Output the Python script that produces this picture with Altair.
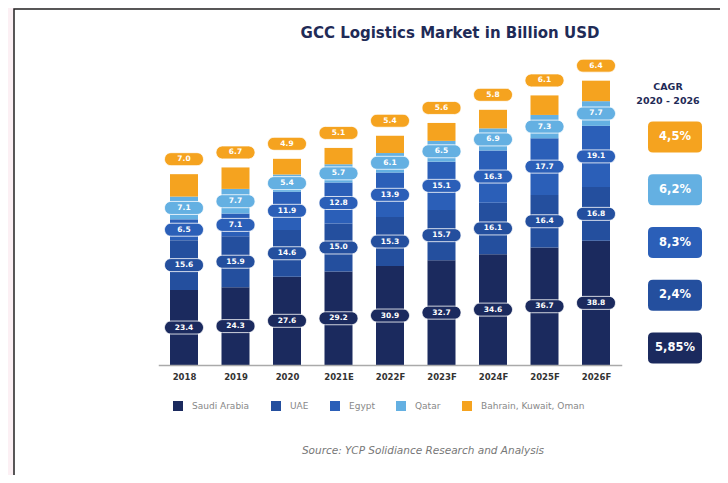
import altair as alt
import pandas as pd

years = ["2018", "2019", "2020", "2021E", "2022F", "2023F", "2024F", "2025F", "2026F"]
saudi = [23.4, 24.3, 27.6, 29.2, 30.9, 32.7, 34.6, 36.7, 38.8]
uae = [15.6, 15.9, 14.6, 15.0, 15.3, 15.7, 16.1, 16.4, 16.8]
egypt = [6.5, 7.1, 11.9, 12.8, 13.9, 15.1, 16.3, 17.7, 19.1]
qatar = [7.1, 7.7, 5.4, 5.7, 6.1, 6.5, 6.9, 7.3, 7.7]
others = [7.0, 6.7, 4.9, 5.1, 5.4, 5.6, 5.8, 6.1, 6.4]
countries = ["Saudi Arabia", "UAE", "Egypt", "Qatar", "Bahrain, Kuwait, Oman"]
colors = ["#1b2a5e", "#244f9e", "#2b5fb8", "#64b0e2", "#f5a31f"]
cagr_countries = ["Bahrain, Kuwait, Oman", "Qatar", "Egypt", "UAE", "Saudi Arabia"]
cagr_labels = ["4,5%", "6,2%", "8,3%", "2,4%", "5,85%"]
title_text = "GCC Logistics Market in Billion USD"
source_text = "Source: YCP Solidiance Research and Analysis"
cagr_head = ["CAGR", "2020 - 2026"]

series = [saudi, uae, egypt, qatar, others]
rows = []
for i, (c, vals) in enumerate(zip(countries, series)):
    for y, v in zip(years, vals):
        rows.append({"year": y, "country": c, "idx": i, "value": v})
df = pd.DataFrame(rows)
cdf = pd.DataFrame({"country": cagr_countries, "label": cagr_labels, "rank": list(range(len(cagr_labels)))})
dummy = pd.DataFrame({"a": [0]})

NAVY = "#1f2b57"
FONT = "DejaVu Sans"
PILL = ("M -1 -0.5 L 1 -0.5 C 1.276 -0.5 1.5 -0.276 1.5 0 C 1.5 0.276 1.276 0.5 1 0.5 "
        "L -1 0.5 C -1.276 0.5 -1.5 0.276 -1.5 0 C -1.5 -0.276 -1.276 -0.5 -1 -0.5 Z")
BOX = ("M -0.815 -0.574 L 0.815 -0.574 Q 1 -0.574 1 -0.389 L 1 0.389 Q 1 0.574 0.815 0.574 "
       "L -0.815 0.574 Q -1 0.574 -1 0.389 L -1 -0.389 Q -1 -0.574 -0.815 -0.574 Z")

cscale = alt.Scale(domain=countries, range=colors)
yscale = alt.Scale(domain=[0, 111.5])
X = alt.X("year:O", sort=years,
          scale=alt.Scale(type="point", domain=years, range=[150.25, 613.75], padding=0.5),
          axis=alt.Axis(title=None, ticks=False, labelAngle=0, labelFontWeight="bold",
                        labelFontSize=8.5, labelColor="#333", domainColor="#aaa",
                        domainWidth=1.5, labelPadding=7, grid=False, zindex=2))

bg = alt.Chart(dummy).mark_rect(fill="white", stroke="#222", strokeWidth=1.5).encode(
    x=alt.value(6), y=alt.value(1), x2=alt.value(900), y2=alt.value(700))

title = alt.Chart(dummy).mark_text(text=title_text, fontSize=15, fontWeight="bold",
                                   color=NAVY, align="center", baseline="middle").encode(
    x=alt.value(442), y=alt.value(25))

bars = alt.Chart(df).mark_bar(size=28).encode(
    x=X,
    y=alt.Y("value:Q", stack="zero", scale=yscale, axis=None),
    color=alt.Color("country:N", scale=cscale,
                    legend=alt.Legend(orient="none", legendX=165, legendY=393,
                                      direction="horizontal", title=None,
                                      symbolType="square", symbolSize=100,
                                      symbolStrokeWidth=0, labelFontSize=9,
                                      labelColor="#888", labelOffset=9,
                                      columnPadding=21, padding=0, zindex=2)),
    order=alt.Order("idx:Q", sort="ascending"),
)

stacked = alt.Chart(df).transform_stack(
    stack="value", groupby=["year"],
    sort=[alt.SortField("idx", order="ascending")], as_=["y0", "y1"]
).transform_calculate(mid="(datum.y0 + datum.y1) / 2")

inner = stacked.transform_filter("datum.idx < 4")
top = stacked.transform_filter("datum.idx == 4")

pills = inner.mark_point(shape=PILL, filled=True, size=676, opacity=1,
                         stroke="white", strokeWidth=0.8).encode(
    x=X, y=alt.Y("mid:Q", scale=yscale, axis=None),
    color=alt.Color("country:N", scale=cscale, legend=None))
pill_text = inner.mark_text(color="white", fontWeight="bold", fontSize=7.5).encode(
    x=X, y=alt.Y("mid:Q", scale=yscale, axis=None),
    text=alt.Text("value:Q", format=".1f"))

top_pills = top.mark_point(shape=PILL, filled=True, size=676, opacity=1,
                           stroke="white", strokeWidth=0.8, yOffset=-15).encode(
    x=X, y=alt.Y("y1:Q", scale=yscale, axis=None),
    color=alt.Color("country:N", scale=cscale, legend=None))
top_text = top.mark_text(color="white", fontWeight="bold", fontSize=7.5, yOffset=-15).encode(
    x=X, y=alt.Y("y1:Q", scale=yscale, axis=None),
    text=alt.Text("value:Q", format=".1f"))

source = alt.Chart(dummy).mark_text(text=source_text, fontSize=10.5, fontStyle="italic",
                                    color="#777", align="center", baseline="middle").encode(
    x=alt.value(415), y=alt.value(443))

head = alt.Chart(dummy).mark_text(text=cagr_head, fontSize=9.5, fontWeight="bold",
                                  color=NAVY, align="center", baseline="top",
                                  lineHeight=14).encode(
    x=alt.value(660), y=alt.value(74))

cy = alt.Y("rank:Q", scale=alt.Scale(domain=[0, 4], range=[129, 340]), axis=None)
boxes = alt.Chart(cdf).mark_point(shape=BOX, filled=True, size=2916, opacity=1).encode(
    x=alt.value(667), y=cy,
    color=alt.Color("country:N", scale=cscale, legend=None))
box_text = alt.Chart(cdf).mark_text(color="white", fontWeight="bold", fontSize=11.5).encode(
    x=alt.value(667), y=cy, text="label:N")

main = alt.layer(bg, title, bars, pills, pill_text, top_pills, top_text, source, head)
cagr = alt.layer(boxes, box_text)

chart = alt.layer(main, cagr).resolve_scale(y="independent").properties(
    width=712, height=357,
    autosize=alt.AutoSizeParams(type="none"),
    padding={"left": 0, "top": 0, "right": 0, "bottom": 110},
).configure(font=FONT, background="#fcf0f4").configure_view(strokeWidth=0)

chart.save("out.html", embed_options={"renderer": "svg", "actions": False})
